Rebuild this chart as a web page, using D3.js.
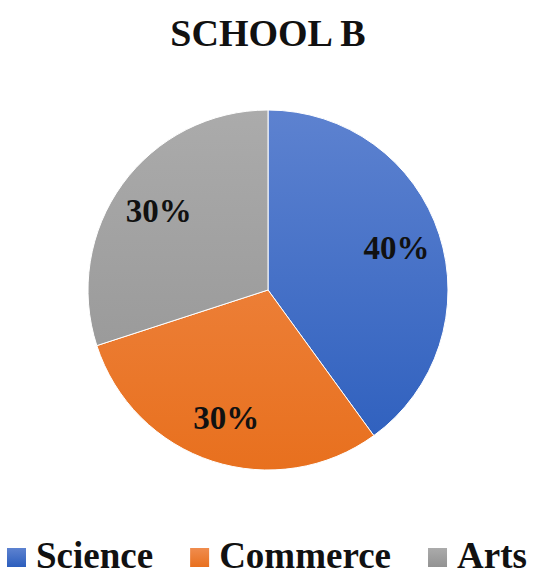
<!DOCTYPE html>
<html><head><meta charset="utf-8">
<script src="https://cdn.jsdelivr.net/npm/d3@7"></script>
<style>body{margin:0;background:#fff}svg{display:block}svg text{font-family:"Liberation Serif","Times New Roman",Times,serif;font-weight:bold}</style>
</head><body>
<script>
const title = "SCHOOL B";
const categories = ["Science", "Commerce", "Arts"];
const values = [40, 30, 30];
const colorsTop = ["#5d82d0", "#f08c4e", "#ababab"];
const colorsBottom = ["#2c5ebd", "#e8701e", "#929292"];

const W = 559, H = 586;
const cx = 268, cy = 290, R = 180;

const svg = d3.select("body").append("svg").attr("width", W).attr("height", H);
const defs = svg.append("defs");
categories.forEach((c, i) => {
  const g = defs.append("linearGradient").attr("id", "g" + i)
    .attr("gradientUnits", "userSpaceOnUse")
    .attr("x1", 0).attr("y1", -R).attr("x2", 0).attr("y2", R);
  g.append("stop").attr("offset", "0%").attr("stop-color", colorsTop[i]);
  g.append("stop").attr("offset", "100%").attr("stop-color", colorsBottom[i]);
  const lgr = defs.append("linearGradient").attr("id", "lg" + i).attr("x1", 0).attr("y1", 0).attr("x2", 0).attr("y2", 1);
  lgr.append("stop").attr("offset", "0%").attr("stop-color", colorsTop[i]);
  lgr.append("stop").attr("offset", "100%").attr("stop-color", colorsBottom[i]);
});

svg.append("text").attr("x", cx).attr("y", 46).attr("text-anchor", "middle")
  .style("font-size", "38px").attr("fill", "#111")
  .text(title);

const pie = d3.pie().sort(null).value(d => d.v);
const data = pie(categories.map((c, i) => ({c, v: values[i], i})));
const arc = d3.arc().innerRadius(0).outerRadius(R);
const labelArc = d3.arc().innerRadius(R * 0.75).outerRadius(R * 0.75);

const g = svg.append("g").attr("transform", `translate(${cx},${cy})`);
g.selectAll("path").data(data).join("path")
  .attr("d", arc).attr("fill", d => `url(#g${d.data.i})`)
  .attr("stroke", "#fff").attr("stroke-width", 1);

const total = d3.sum(values);
g.selectAll("text").data(data).join("text")
  .attr("transform", d => `translate(${labelArc.centroid(d)})`)
  .attr("text-anchor", "middle").attr("dy", "0.33em")
  .style("font-size", "33px")
  .attr("fill", "#111")
  .text(d => Math.round(d.data.v / total * 100) + "%");

// legend (flow layout)
const lg = svg.append("g");
let x = 7;
categories.forEach((c, i) => {
  lg.append("rect").attr("x", x).attr("y", 548).attr("width", 19).attr("height", 19)
    .attr("fill", `url(#lg${i})`);
  const t = lg.append("text").attr("x", x + 29).attr("y", 568)
    .style("font-size", "37px")
    .attr("fill", "#111").text(c);
  x = x + 29 + t.node().getComputedTextLength() + 37;
});
</script>
</body></html>
